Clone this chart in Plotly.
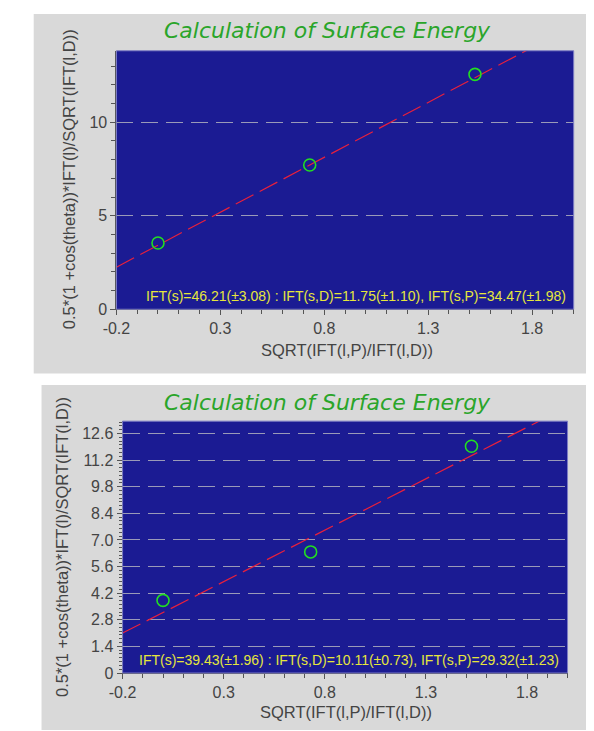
import plotly.graph_objects as go

# ---- data ----
title_text = "Calculation of Surface Energy"
x_title = "SQRT(IFT(l,P)/IFT(l,D))"
y_title = "0.5*(1 +cos(theta))*IFT(l)/SQRT(IFT(l,D))"

x_points = [0.0, 0.73, 1.525]
y_points_top = [3.54, 7.71, 12.56]
y_points_bottom = [3.82, 6.37, 11.93]

fit_x = [-0.2, 2.0]
fit_y_top = [2.25, 15.17]
fit_y_bottom = [2.10, 14.01]

result_top = "IFT(s)=46.21(\u00b13.08) : IFT(s,D)=11.75(\u00b11.10), IFT(s,P)=34.47(\u00b11.98)"
result_bottom = "IFT(s)=39.43(\u00b11.96) : IFT(s,D)=10.11(\u00b10.73), IFT(s,P)=29.32(\u00b11.23)"

x_tickvals = [-0.2, 0.3, 0.8, 1.3, 1.8]
x_ticktext = ["-0.2", "0.3", "0.8", "1.3", "1.8"]
y_tickvals_top = [0, 5, 10]
y_ticktext_top = ["0", "5", "10"]
y_tickvals_bottom = [0, 1.4, 2.8, 4.2, 5.6, 7.0, 8.4, 9.8, 11.2, 12.6]
y_ticktext_bottom = ["0", "1.4", "2.8", "4.2", "5.6", "7.0", "8.4", "9.8", "11.2", "12.6"]

# ---- styling ----
W, H = 594, 731
PANEL = "#D9D9D9"
PLOTBG = "#1B1B93"
GREEN = "#2AA52A"
TICKFONT = dict(family="Liberation Sans, Arial, sans-serif", size=16, color="#444444")
LABELFONT = dict(family="Liberation Sans, Arial, sans-serif", size=16.5, color="#444444")
RESFONT = dict(family="Liberation Sans, Arial, sans-serif", size=14, color="#E6E63C")


def px_x(v):
    return v / W


def px_y(v):
    return 1 - v / H


fig = go.Figure()

# top panel traces
fig.add_trace(go.Scatter(x=fit_x, y=fit_y_top, mode="lines", xaxis="x", yaxis="y",
                         line=dict(color="#E8203C", width=1.2, dash="20px,7px"),
                         showlegend=False, hoverinfo="skip"))
fig.add_trace(go.Scatter(x=x_points, y=y_points_top, mode="markers", xaxis="x", yaxis="y",
                         marker=dict(symbol="circle-open", size=12, color="#22DD22",
                                     line=dict(width=1.6, color="#22DD22")),
                         showlegend=False))
# bottom panel traces
fig.add_trace(go.Scatter(x=fit_x, y=fit_y_bottom, mode="lines", xaxis="x2", yaxis="y2",
                         line=dict(color="#E8203C", width=1.2, dash="20px,7px"),
                         showlegend=False, hoverinfo="skip"))
fig.add_trace(go.Scatter(x=x_points, y=y_points_bottom, mode="markers", xaxis="x2", yaxis="y2",
                         marker=dict(symbol="circle-open", size=12, color="#22DD22",
                                     line=dict(width=1.6, color="#22DD22")),
                         showlegend=False))

common_x = dict(range=[-0.2, 2.0], tickmode="array", tickvals=x_tickvals, ticktext=x_ticktext,
                ticks="outside", ticklen=5, tickcolor="#555555", showgrid=False, zeroline=False,
                showline=True, linecolor="#555555", linewidth=1, tickfont=TICKFONT,
                minor=dict(tickmode="linear", tick0=-0.2, dtick=0.1, ticks="outside",
                           ticklen=4, tickcolor="#555555", showgrid=False))

common_y = dict(ticks="outside", ticklen=5, tickcolor="#555555", showgrid=True,
                gridcolor="#9A9AB8", gridwidth=1, griddash="17px,8px", zeroline=False,
                showline=True, linecolor="#555555", linewidth=1, tickfont=TICKFONT,
                tickmode="array")

fig.update_layout(
    width=W, height=H,
    margin=dict(l=0, r=0, t=0, b=0),
    paper_bgcolor="white",
    plot_bgcolor=PLOTBG,
    showlegend=False,
    xaxis=dict(domain=[px_x(96.7), px_x(565)], anchor="y", **common_x),
    yaxis=dict(domain=[px_y(305), px_y(43.3)], anchor="x", range=[0, 13.82],
               tickvals=y_tickvals_top, ticktext=y_ticktext_top,
               minor=dict(tickmode="linear", tick0=0, dtick=1, ticks="outside", ticklen=4,
                          tickcolor="#555555", showgrid=False),
               **common_y),
    xaxis2=dict(domain=[px_x(103), px_x(558.7)], anchor="y2", **common_x),
    yaxis2=dict(domain=[px_y(673.3), px_y(418.3)], anchor="x2", range=[0, 13.25],
                tickvals=y_tickvals_bottom, ticktext=y_ticktext_bottom,
                minor=dict(tickmode="linear", tick0=0, dtick=0.2, ticks="outside", ticklen=3,
                           tickcolor="#555555", showgrid=False),
                **common_y),
)

shapes = [
    dict(type="rect", xref="paper", yref="paper", x0=px_x(12), x1=1.0, y0=px_y(370), y1=px_y(6),
         fillcolor=PANEL, line=dict(width=0), layer="below"),
    dict(type="rect", xref="paper", yref="paper", x0=px_x(20), x1=px_x(586.3), y0=0, y1=px_y(381.7),
         fillcolor=PANEL, line=dict(width=0), layer="below"),
    dict(type="rect", xref="x domain", yref="y domain", x0=0, x1=1, y0=0, y1=1,
         fillcolor=PLOTBG, line=dict(width=0), layer="below"),
    dict(type="rect", xref="x2 domain", yref="y2 domain", x0=0, x1=1, y0=0, y1=1,
         fillcolor=PLOTBG, line=dict(width=0), layer="below"),
    dict(type="rect", xref="x domain", yref="y domain", x0=0, x1=1, y0=0, y1=1,
         line=dict(color="#7C7CC4", width=1), layer="above"),
    dict(type="rect", xref="x2 domain", yref="y2 domain", x0=0, x1=1, y0=0, y1=1,
         line=dict(color="#7C7CC4", width=1), layer="above"),
]
fig.update_layout(shapes=shapes)

TITLEFONT = dict(family="DejaVu Sans, Verdana, sans-serif", size=22, color=GREEN, style="italic")

annotations = [
    dict(text=title_text, x=px_x(313), y=px_y(23), xref="paper", yref="paper",
         showarrow=False, font=TITLEFONT, xanchor="center", yanchor="middle"),
    dict(text=title_text, x=px_x(313), y=px_y(399), xref="paper", yref="paper",
         showarrow=False, font=TITLEFONT, xanchor="center", yanchor="middle"),
    dict(text=y_title, x=px_x(48.5), y=px_y(173), xref="paper", yref="paper", textangle=-90,
         showarrow=False, font=LABELFONT, xanchor="center", yanchor="middle"),
    dict(text=y_title, x=px_x(41.7), y=px_y(546), xref="paper", yref="paper", textangle=-90,
         showarrow=False, font=LABELFONT, xanchor="center", yanchor="middle"),
    dict(text=x_title, x=px_x(333), y=px_y(346.7), xref="paper", yref="paper",
         showarrow=False, font=LABELFONT, xanchor="center", yanchor="middle"),
    dict(text=x_title, x=px_x(332), y=px_y(712.7), xref="paper", yref="paper",
         showarrow=False, font=LABELFONT, xanchor="center", yanchor="middle"),
    dict(text=result_top, x=px_x(559), y=px_y(292), xref="paper", yref="paper",
         showarrow=False, font=RESFONT, xanchor="right", yanchor="middle"),
    dict(text=result_bottom, x=px_x(552), y=px_y(660), xref="paper", yref="paper",
         showarrow=False, font=RESFONT, xanchor="right", yanchor="middle"),
]
fig.update_layout(annotations=annotations)

fig.write_html("out.html")
